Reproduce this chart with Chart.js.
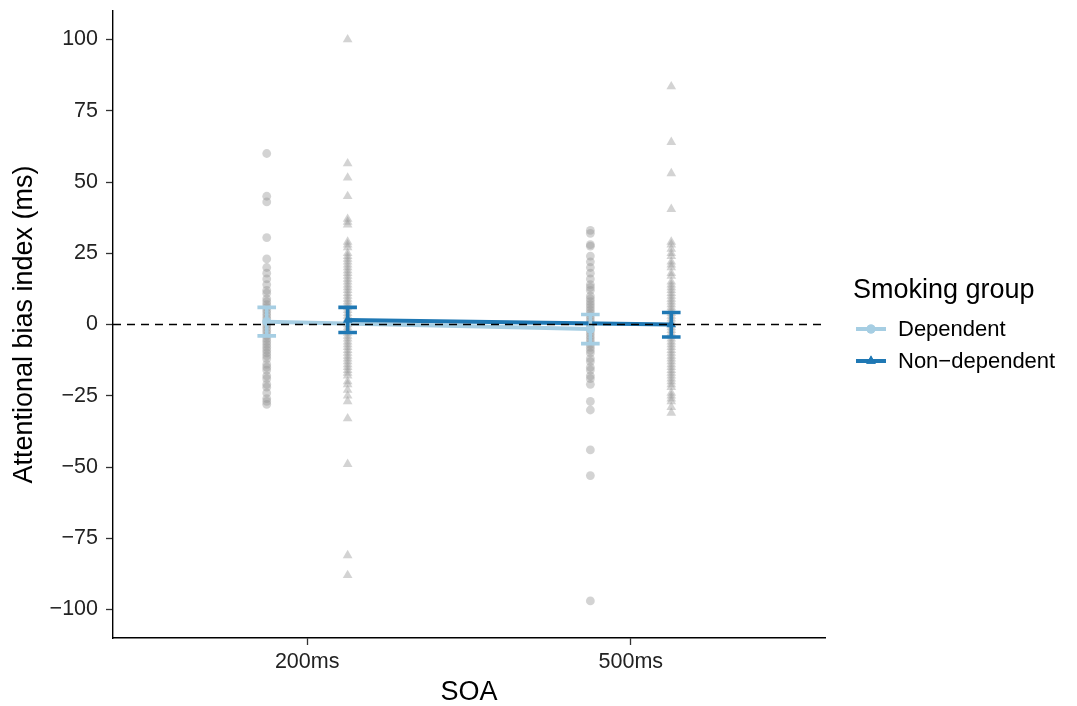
<!DOCTYPE html>
<html><head><meta charset="utf-8">
<script src="https://cdn.jsdelivr.net/npm/chart.js@4.4.1/dist/chart.umd.min.js"></script>
<style>html,body{margin:0;padding:0;background:#fff}#wrap{width:1077px;height:706px}</style>
</head><body><div id="wrap"><canvas id="c" width="1077" height="706"></canvas></div>
<script>
// SOA categories and groups
const CATEGORIES = ['200ms', '500ms'];
const GROUPS = ['Dependent', 'Non\u2212dependent'];
const Y_TICKS = [-100, -75, -50, -25, 0, 25, 50, 75, 100];

// Group means with error bar limits, one entry per SOA
const DEP_MEAN = [1.0, -1.6];
const DEP_LOW = [-4.0, -6.7];
const DEP_HIGH = [6.0, 3.5];
const NON_MEAN = [1.6, 0.0];
const NON_LOW = [-2.8, -4.4];
const NON_HIGH = [6.0, 4.2];

// Individual participants' bias indices
const DEP_200 = [60, 45, 43, 30.5, 23, 20, 18, 16, 14, 12, 11, 9, 8, 7, 6, 5, 4, 3, 2, 1, 0, -1, -2, -3, -4, -5, -6, -7, -8, -9, -10, -11, -12, -14, -15, -16, -18, -19, -21, -22, -24, -26, -27, -28];
const NON_200 = [100, 56.5, 51.5, 45, 37, 36, 35, 29, 28, 27, 25, 24, 23, 22, 21, 20, 19, 18, 17, 16, 15, 14, 13, 12, 11, 10, 9, 8, 7, 6, 5, 4, 3, 2, 1, 0, -1, -2, -3, -4, -5, -6, -7, -8, -9, -10, -11, -12, -13, -14, -15, -16, -17, -18, -20, -21, -23, -25, -27, -33, -49, -81, -88];
const DEP_500 = [33, 32, 28, 27.5, 24, 22, 20, 18, 16, 14, 13, 12, 10, 9, 8, 7, 6, 5, 4, 3, 2, 1, 0, -1, -2, -3, -4, -5, -6, -7, -8, -9, -10, -12, -13, -15, -16, -18, -19, -21, -27, -30, -44, -53, -97];
const NON_500 = [83.5, 64, 53, 40.5, 29, 28, 26.5, 25, 24, 22, 21, 20, 18, 17, 15, 14, 13, 12, 11, 10, 9, 8, 7, 6, 5, 4, 3, 2, 1, 0, -1, -2, -3, -4, -5, -6, -7, -8, -9, -10, -11, -12, -13, -14, -15, -16, -17, -18, -19, -20, -21, -22, -24, -25, -26, -27, -29, -31];

const ZERO_LINE = 0;
const DODGE = 0.125;
const FONT = '"Liberation Sans", Arial, Helvetica, sans-serif';
const DEP_COLOR = '#a6cee3';
const NON_COLOR = '#1f78b4';
const RAW_COLOR = 'rgba(150,150,150,0.42)';
const TICK_TEXT = '#222';

const xPos = (i, g) => i + 1 + (g === 0 ? -DODGE : DODGE);
const rawSet = (vals, i, g) => vals.map(v => ({ x: xPos(i, g), y: v }));
const meanSet = (means, g) => means.map((m, i) => ({ x: xPos(i, g), y: m }));
const minus = s => String(s).replace('-', '\u2212');

const datasets = [
  { type: 'line', label: GROUPS[1], data: meanSet(NON_MEAN, 1), borderColor: NON_COLOR, backgroundColor: NON_COLOR,
    borderWidth: 4, pointStyle: 'triangle', pointRadius: 5.5, pointBorderWidth: 0, fill: false, tension: 0 },
  { type: 'line', label: GROUPS[0], data: meanSet(DEP_MEAN, 0), borderColor: DEP_COLOR, backgroundColor: DEP_COLOR,
    borderWidth: 4, pointStyle: 'circle', pointRadius: 4.5, pointBorderWidth: 0, fill: false, tension: 0 },
  { type: 'scatter', data: rawSet(DEP_200, 0, 0).concat(rawSet(DEP_500, 1, 0)), backgroundColor: RAW_COLOR,
    borderWidth: 0, pointStyle: 'circle', pointRadius: 4.4 },
  { type: 'scatter', data: rawSet(NON_200, 0, 1).concat(rawSet(NON_500, 1, 1)), backgroundColor: RAW_COLOR,
    borderWidth: 0, pointStyle: 'triangle', pointRadius: 5.6 }
];

const overlay = {
  id: 'overlay',
  afterDatasetsDraw(chart) {
    const { ctx, scales: { x, y }, chartArea: ca } = chart;
    ctx.save();
    // error bars
    const bars = [[DEP_LOW, DEP_HIGH, 0, DEP_COLOR], [NON_LOW, NON_HIGH, 1, NON_COLOR]];
    bars.forEach(([lo, hi, g, col]) => {
      lo.forEach((l, i) => {
        const px = x.getPixelForValue(xPos(i, g));
        const pl = y.getPixelForValue(l), ph = y.getPixelForValue(hi[i]);
        const half = x.getPixelForValue(DODGE * 0.23) - x.getPixelForValue(0);
        ctx.strokeStyle = col; ctx.lineWidth = 3.6; ctx.lineCap = 'butt';
        ctx.beginPath();
        ctx.moveTo(px, pl); ctx.lineTo(px, ph);
        ctx.moveTo(px - half, pl); ctx.lineTo(px + half, pl);
        ctx.moveTo(px - half, ph); ctx.lineTo(px + half, ph);
        ctx.stroke();
      });
    });
    // reference line at zero
    const py = y.getPixelForValue(ZERO_LINE);
    ctx.strokeStyle = '#000'; ctx.lineWidth = 1.7; ctx.setLineDash([8, 6]);
    ctx.beginPath(); ctx.moveTo(ca.left, py); ctx.lineTo(ca.right, py); ctx.stroke();
    ctx.restore();
  },
  afterDraw(chart) {
    const { ctx, chartArea: ca } = chart;
    ctx.save();
    ctx.fillStyle = '#000';
    // axis titles
    ctx.font = '27px ' + FONT;
    ctx.textAlign = 'center'; ctx.textBaseline = 'alphabetic';
    ctx.fillText('SOA', (ca.left + ca.right) / 2, 700);
    ctx.save();
    ctx.translate(32, (ca.top + ca.bottom) / 2);
    ctx.rotate(-Math.PI / 2);
    ctx.fillText('Attentional bias index (ms)', 0, 0);
    ctx.restore();
    // legend
    ctx.textAlign = 'left';
    ctx.fillText('Smoking group', 853, 298);
    const items = [[GROUPS[0], DEP_COLOR, 'circle', 329], [GROUPS[1], NON_COLOR, 'triangle', 361]];
    ctx.font = '22px ' + FONT;
    ctx.textBaseline = 'middle';
    items.forEach(([label, col, shape, ly]) => {
      ctx.strokeStyle = col; ctx.fillStyle = col; ctx.lineWidth = 4;
      ctx.beginPath(); ctx.moveTo(856, ly); ctx.lineTo(886, ly); ctx.stroke();
      Chart.helpers.drawPoint(ctx, { pointStyle: shape, radius: shape === 'circle' ? 4.5 : 5.5, borderWidth: 0 }, 871, ly);
      ctx.fill();
      ctx.fillStyle = '#000';
      ctx.fillText(label, 898, ly + 1);
    });
    ctx.restore();
  }
};

new Chart(document.getElementById('c'), {
  data: { datasets },
  options: {
    responsive: false,
    animation: false,
    layout: { padding: { top: 11, right: 252, left: 0, bottom: 0 } },
    plugins: { legend: { display: false }, tooltip: { enabled: false } },
    scales: {
      x: {
        type: 'linear', min: 0.4, max: 2.6,
        afterBuildTicks: s => { s.ticks = CATEGORIES.map((c, i) => ({ value: i + 1 })); },
        afterFit: s => { s.height = 68; s.paddingLeft = 0; s.paddingRight = 0; },
        ticks: { callback: v => CATEGORIES[Math.round(v) - 1], color: TICK_TEXT, font: { family: FONT, size: 21.5 }, padding: 4, maxRotation: 0 },
        grid: { display: true, drawOnChartArea: false, tickLength: 7, tickColor: '#333', tickWidth: 1.3 },
        border: { color: '#000', width: 1.4 }
      },
      y: {
        type: 'linear', min: -110, max: 110,
        afterBuildTicks: s => { s.ticks = Y_TICKS.map(v => ({ value: v })); },
        afterFit: s => { s.width = 113; s.paddingTop = 0; s.paddingBottom = 0; },
        ticks: { callback: v => minus(v), color: TICK_TEXT, font: { family: FONT, size: 21.5 }, padding: 8 },
        grid: { display: true, drawOnChartArea: false, tickLength: 7, tickColor: '#333', tickWidth: 1.3 },
        border: { color: '#000', width: 1.4 }
      }
    }
  },
  plugins: [overlay]
});
</script></body></html>
